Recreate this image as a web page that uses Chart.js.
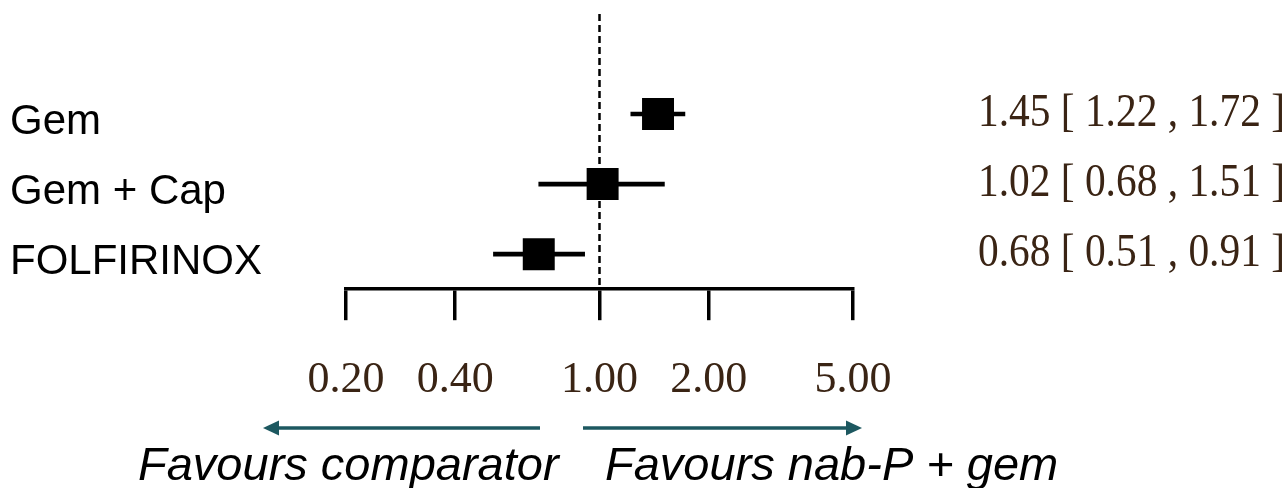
<!DOCTYPE html>
<html>
<head>
<meta charset="utf-8">
<script src="https://cdn.jsdelivr.net/npm/chart.js@4.4.1/dist/chart.umd.min.js"></script>
<style>
    html, body { margin: 0; padding: 0; background: #fff; }
    canvas { display: block; }
</style>
</head>
<body>
<canvas id="forest" width="1287" height="488"></canvas>
<script>
const treatments = ['Gem', 'Gem + Cap', 'FOLFIRINOX']
const estimates = [1.45, 1.02, 0.68]
const lowerCI = [1.22, 0.68, 0.51]
const upperCI = [1.72, 1.51, 0.91]
const tickValues = [0.2, 0.4, 1, 2, 5]
const leftNote = 'Favours comparator'
const rightNote = 'Favours nab-P + gem'

const fmt = v => Number(v).toFixed(2)
const serif = '"Liberation Serif", "Times New Roman", serif'
const sans = '"Liberation Sans", Arial, sans-serif'
const numColor = '#3a2414'
const arrowColor = '#1d5860'

function arrow(ctx, x0, x1, yy) {
    const dir = Math.sign(x1 - x0)
    ctx.beginPath()
    ctx.moveTo(x0, yy)
    ctx.lineTo(x1 - dir * 14, yy)
    ctx.stroke()
    ctx.beginPath()
    ctx.moveTo(x1, yy)
    ctx.lineTo(x1 - dir * 16, yy - 7.5)
    ctx.lineTo(x1 - dir * 16, yy + 7.5)
    ctx.closePath()
    ctx.fill()
}

const forestDecor = {
    id: 'forestDecor',
    beforeDatasetsDraw(chart) {
        // line of no effect
        const { ctx, chartArea, scales: { x } } = chart
        const px = x.getPixelForValue(1)
        ctx.save()
        ctx.strokeStyle = '#000'
        ctx.lineWidth = 2.5
        ctx.setLineDash([7, 4])
        ctx.beginPath()
        ctx.moveTo(px, 14)
        ctx.lineTo(px, chartArea.bottom)
        ctx.stroke()
        ctx.restore()
    },
    afterDraw(chart) {
        const { ctx, scales: { y } } = chart
        ctx.save()

        ctx.fillStyle = '#000'
        ctx.font = `42px ${sans}`
        ctx.textAlign = 'left'
        ctx.textBaseline = 'alphabetic'
        treatments.forEach((t, i) => ctx.fillText(t, 10, y.getPixelForValue(i) + 20))

        // estimate [CI] column, a bit condensed like the original
        ctx.fillStyle = numColor
        ctx.font = `46px ${serif}`
        ctx.textAlign = 'right'
        ctx.textBaseline = 'middle'
        treatments.forEach((t, i) => {
            const txt = `${fmt(estimates[i])} [ ${fmt(lowerCI[i])} , ${fmt(upperCI[i])} ]`
            ctx.save()
            ctx.translate(1285, y.getPixelForValue(i))
            ctx.scale(0.9, 1)
            ctx.fillText(txt, 0, 0)
            ctx.restore()
        })

        ctx.strokeStyle = arrowColor
        ctx.fillStyle = arrowColor
        ctx.lineWidth = 3.3
        arrow(ctx, 540, 263, 428)
        arrow(ctx, 583, 862, 428)

        ctx.fillStyle = '#000'
        ctx.font = `italic 47px ${sans}`
        ctx.textAlign = 'left'
        ctx.textBaseline = 'alphabetic'
        ctx.fillText(leftNote, 138, 480)
        ctx.fillText(rightNote, 605, 480)
        ctx.restore()
    }
}

new Chart(document.getElementById('forest'), {
    type: 'bar',
    data: {
        labels: treatments,
        datasets: [
            {
                type: 'bar',
                data: treatments.map((_, i) => [lowerCI[i], upperCI[i]]),
                backgroundColor: '#000',
                barThickness: 4,
                order: 2
            },
            {
                type: 'scatter',
                data: treatments.map((t, i) => ({ x: estimates[i], y: t })),
                pointStyle: 'rect',
                pointRadius: 22.6,
                pointHoverRadius: 22.6,
                backgroundColor: '#000',
                borderWidth: 0,
                order: 1
            }
        ]
    },
    options: {
        indexAxis: 'y',
        responsive: false,
        animation: false,
        events: [],
        layout: { padding: { left: 346, right: 434, top: 79, bottom: 47 } },
        plugins: { legend: { display: false }, tooltip: { enabled: false } },
        scales: {
            x: {
                type: 'logarithmic',
                position: 'bottom',
                min: 0.2,
                max: 5,
                afterBuildTicks: scale => { scale.ticks = tickValues.map(v => ({ value: v })) },
                ticks: {
                    callback: v => fmt(v),
                    autoSkip: false,
                    maxRotation: 0,
                    padding: 34,
                    color: numColor,
                    font: { family: serif, size: 44 }
                },
                grid: { drawOnChartArea: false, drawTicks: true, tickLength: 31, lineWidth: 3.5, color: '#000' },
                border: { display: true, color: '#000', width: 3.5 }
            },
            y: { type: 'category', display: false, offset: true }
        }
    },
    plugins: [forestDecor]
})
</script>
</body>
</html>
